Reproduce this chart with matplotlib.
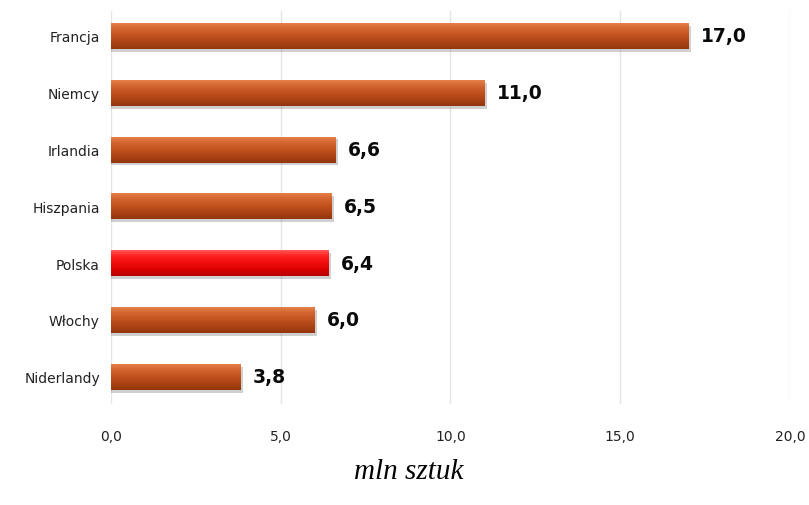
import numpy as np
import matplotlib.pyplot as plt
from matplotlib.colors import to_rgb

countries = ['Francja', 'Niemcy', 'Irlandia', 'Hiszpania', 'Polska', 'Włochy', 'Niderlandy']
values = [17.0, 11.0, 6.6, 6.5, 6.4, 6.0, 3.8]
highlight = 'Polska'
xticks = [0, 5, 10, 15, 20]
unit_label = 'mln sztuk'

# gradient stops, top -> bottom of each bar
brown = ['#E8844F', '#D2652F', '#C2521F', '#AC4314', '#93360D']
red = ['#FF6060', '#FF2222', '#F20D0D', '#DA0000', '#B80000']


def gradient(stops, n=60):
    cols = np.array([to_rgb(c) for c in stops])
    pos = np.linspace(0, 1, len(stops))
    t = np.linspace(0, 1, n)
    rgb = np.stack([np.interp(t, pos, cols[:, k]) for k in range(3)], axis=1)
    return rgb[:, None, :]


fig = plt.figure(figsize=(8.09, 5.06), dpi=100)
ax = fig.add_axes([0.1372, 0.1996, 0.8393, 0.7767])

y = np.arange(len(countries))
h = 0.46
bars = ax.barh(y, values, height=h, color='none', edgecolor='none', zorder=3)

for bar, name in zip(bars, countries):
    x0, y0 = bar.get_x(), bar.get_y()
    w, hh = bar.get_width(), bar.get_height()
    # soft shadow
    ax.barh(y0 + hh / 2 + 0.05, w + 0.08, height=hh, left=x0,
            color='#7a7a7a', alpha=0.35, zorder=2, linewidth=0)
    stops = red if name == highlight else brown
    img = ax.imshow(gradient(stops), extent=[x0, x0 + w, y0 + hh, y0],
                    origin='upper', aspect='auto', zorder=3, interpolation='bilinear')
    img.set_clip_path(bar)

for yi, v in zip(y, values):
    ax.annotate(f'{v:.1f}'.replace('.', ','), (v, yi), xytext=(9, 0),
                textcoords='offset points', va='center', ha='left',
                fontsize=13.5, fontweight='bold', color='#0a0a0a')

ax.set_xlim(0, 20)
ax.set_ylim(len(countries) - 1 + 0.48, -0.44)
ax.set_xticks(xticks)
ax.set_xticklabels([f'{t:.1f}'.replace('.', ',') for t in xticks], fontsize=10, color='#222222')
ax.set_yticks(y)
ax.set_yticklabels(countries, fontsize=10, color='#222222')
ax.tick_params(length=0, pad=8)
ax.tick_params(axis='x', pad=18)
ax.grid(axis='x', color='#e4e4e4', linewidth=1, zorder=0)
ax.set_axisbelow(True)
for s in ax.spines.values():
    s.set_visible(False)

fig.text(0.505, 0.068, unit_label, ha='center', va='center', fontsize=21,
         fontstyle='italic', family='Liberation Serif')

fig.savefig('out.png', dpi=100)
